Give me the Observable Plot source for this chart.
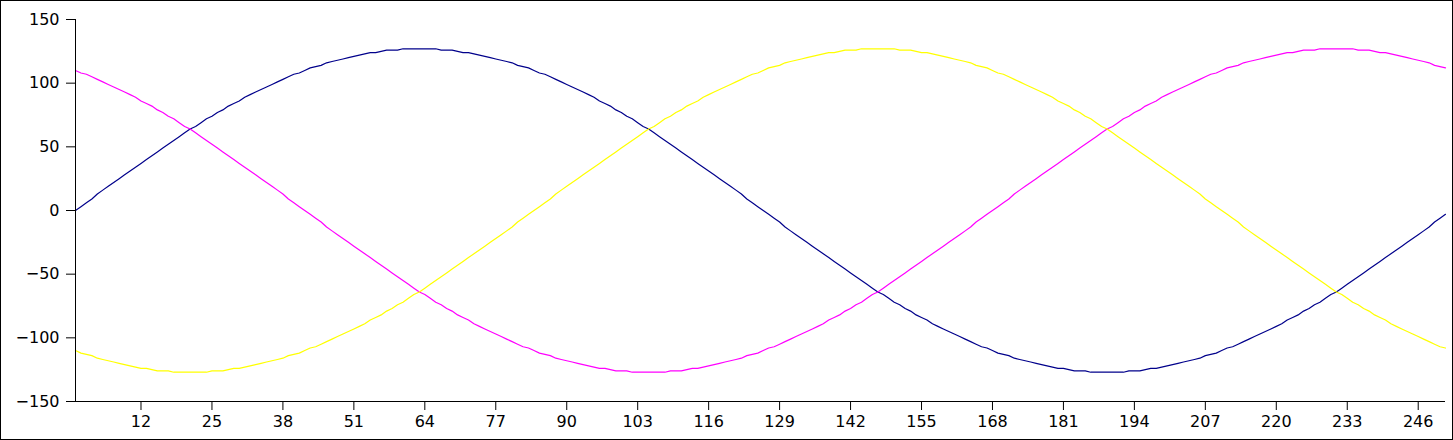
<!DOCTYPE html>
<html>
<head>
<meta charset="utf-8">
<script src="https://cdn.jsdelivr.net/npm/d3@7"></script>
<script src="https://cdn.jsdelivr.net/npm/@observablehq/plot@0.6"></script>
<style>
  html, body { margin: 0; padding: 0; background: #fff; }
  #chart svg { display: block; border: 1px solid #000; background: #fff; }
</style>
</head>
<body>
<div id="chart"></div>
<script>
// Series values (sample index 0..251)
const blue = [
  0,3,6,9,13,16,19,22,25,28,31,34,37,40,43,46,49,52,55,58,61,64,66,69,72,74,77,79,82,84,86,89,91,93,95,97,99,101,103,105,107,108,110,112,113,114,116,117,118,119,120,121,122,123,124,124,125,126,126,126,127,127,127,127,
  127,127,127,126,126,126,125,124,124,123,122,121,120,119,118,117,116,114,113,112,110,108,107,105,103,101,99,97,95,93,91,89,86,84,82,79,77,74,72,69,66,64,61,58,55,52,49,46,43,40,37,34,31,28,25,22,19,16,13,9,6,3,
  0,
  -3,-6,-9,-13,-16,-19,-22,-25,-28,-31,-34,-37,-40,-43,-46,-49,-52,-55,-58,-61,-64,-66,-69,-72,-74,-77,-79,-82,-84,-86,-89,-91,-93,-95,-97,-99,-101,-103,-105,-107,-108,-110,-112,-113,-114,-116,-117,-118,-119,-120,-121,-122,-123,-124,-124,-125,-126,-126,-126,-127,-127,-127,-127,
  -127,-127,-127,-126,-126,-126,-125,-124,-124,-123,-122,-121,-120,-119,-118,-117,-116,-114,-113,-112,-110,-108,-107,-105,-103,-101,-99,-97,-95,-93,-91,-89,-86,-84,-82,-79,-77,-74,-72,-69,-66,-64,-61,-58,-55,-52,-49,-46,-43,-40,-37,-34,-31,-28,-25,-22,-19,-16,-13,-9,-6,-3
];
const magenta = [
  110,108,107,105,103,101,99,97,95,93,91,89,86,84,82,79,77,74,72,69,66,64,61,58,55,52,49,46,43,40,37,34,31,28,25,22,19,16,13,9,6,3,
  0,
  -3,-6,-9,-13,-16,-19,-22,-25,-28,-31,-34,-37,-40,-43,-46,-49,-52,-55,-58,-61,-64,-66,-69,-72,-74,-77,-79,-82,-84,-86,-89,-91,-93,-95,-97,-99,-101,-103,-105,-107,-108,-110,-112,-113,-114,-116,-117,-118,-119,-120,-121,-122,-123,-124,-124,-125,-126,-126,-126,-127,-127,-127,-127,
  -127,-127,-127,-126,-126,-126,-125,-124,-124,-123,-122,-121,-120,-119,-118,-117,-116,-114,-113,-112,-110,-108,-107,-105,-103,-101,-99,-97,-95,-93,-91,-89,-86,-84,-82,-79,-77,-74,-72,-69,-66,-64,-61,-58,-55,-52,-49,-46,-43,-40,-37,-34,-31,-28,-25,-22,-19,-16,-13,-9,-6,-3,
  0,3,6,9,13,16,19,22,25,28,31,34,37,40,43,46,49,52,55,58,61,64,66,69,72,74,77,79,82,84,86,89,91,93,95,97,99,101,103,105,107,108,110,112,113,114,116,117,118,119,120,121,122,123,124,124,125,126,126,126,127,127,127,127,
  127,127,127,126,126,126,125,124,124,123,122,121,120,119,118,117,116,114,113,112
];
const yellow = [
  -110,-112,-113,-114,-116,-117,-118,-119,-120,-121,-122,-123,-124,-124,-125,-126,-126,-126,-127,-127,-127,-127,
  -127,-127,-127,-126,-126,-126,-125,-124,-124,-123,-122,-121,-120,-119,-118,-117,-116,-114,-113,-112,-110,-108,-107,-105,-103,-101,-99,-97,-95,-93,-91,-89,-86,-84,-82,-79,-77,-74,-72,-69,-66,-64,-61,-58,-55,-52,-49,-46,-43,-40,-37,-34,-31,-28,-25,-22,-19,-16,-13,-9,-6,-3,
  0,3,6,9,13,16,19,22,25,28,31,34,37,40,43,46,49,52,55,58,61,64,66,69,72,74,77,79,82,84,86,89,91,93,95,97,99,101,103,105,107,108,110,112,113,114,116,117,118,119,120,121,122,123,124,124,125,126,126,126,127,127,127,127,
  127,127,127,126,126,126,125,124,124,123,122,121,120,119,118,117,116,114,113,112,110,108,107,105,103,101,99,97,95,93,91,89,86,84,82,79,77,74,72,69,66,64,61,58,55,52,49,46,43,40,37,34,31,28,25,22,19,16,13,9,6,3,
  0,
  -3,-6,-9,-13,-16,-19,-22,-25,-28,-31,-34,-37,-40,-43,-46,-49,-52,-55,-58,-61,-64,-66,-69,-72,-74,-77,-79,-82,-84,-86,-89,-91,-93,-95,-97,-99,-101,-103,-105,-107,-108
];
const xTicks = [12, 25, 38, 51, 64, 77, 90, 103, 116, 129, 142, 155, 168, 181, 194, 207, 220, 233, 246];
const yTicks = [-150, -100, -50, 0, 50, 100, 150];

const seriesNames = ["Series 1", "Series 2", "Series 3"];
const seriesValues = [blue, magenta, yellow];
const seriesColors = ["#00008b", "#ff00ff", "#ffff00"];

const rows = [];
seriesValues.forEach((vals, s) => {
  vals.forEach((v, i) => rows.push({series: seriesNames[s], i, v}));
});

const fmt = d3.format("d");

const chart = Plot.plot({
  width: 1451,
  height: 438,
  marginLeft: 74,
  marginRight: 7,
  marginTop: 18,
  marginBottom: 38,
  style: {fontFamily: "DejaVu Sans", fontSize: "16px", color: "#000", background: "#fff"},
  x: {domain: [0, 251]},
  y: {domain: [-150, 150]},
  color: {type: "ordinal", domain: seriesNames, range: seriesColors},
  marks: [
    Plot.line(rows, {x: "i", y: "v", z: "series", stroke: "series", strokeWidth: 1.2}),
    Plot.ruleX([0], {stroke: "#000", strokeWidth: 1}),
    Plot.ruleY([-150], {stroke: "#000", strokeWidth: 1}),
    Plot.axisX({ticks: xTicks, tickSize: 9, tickPadding: 5, tickFormat: fmt, label: null, fontSize: 16}),
    Plot.axisY({ticks: yTicks, tickSize: 9, tickPadding: 7, tickFormat: fmt, label: null, fontSize: 16})
  ]
});
document.getElementById("chart").appendChild(chart);
</script>
</body>
</html>
